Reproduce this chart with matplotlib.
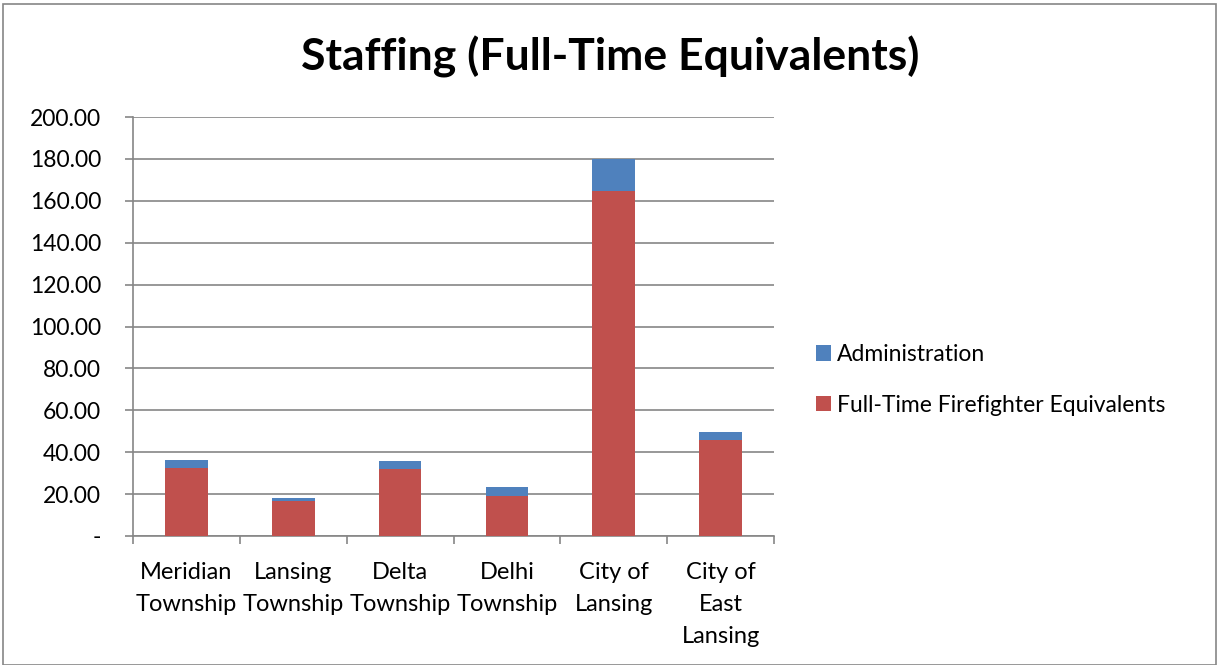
import matplotlib
matplotlib.use("Agg")
import matplotlib.pyplot as plt
from matplotlib.patches import Rectangle
import numpy as np

categories = ["Meridian\nTownship", "Lansing\nTownship", "Delta\nTownship",
              "Delhi\nTownship", "City of\nLansing", "City of\nEast\nLansing"]
firefighters = [32.5, 16.8, 32.0, 19.3, 164.8, 46.0]
administration = [3.9, 1.1, 4.0, 4.3, 15.2, 3.6]
y_ticks = [0, 20, 40, 60, 80, 100, 120, 140, 160, 180, 200]

RED = "#C0504D"
BLUE = "#4F81BD"
GRID = "#868686"

plt.rcParams["font.family"] = ["Lato", "DejaVu Sans"]

W, H = 1219, 665
fig = plt.figure(figsize=(W / 100, H / 100), dpi=100)
ax = fig.add_axes([133 / W, 1 - 536 / H, (774 - 133) / W, (536 - 117) / H])

# outer chart frame
fig.patches.append(Rectangle((3 / W, 0.0), (1216 - 3) / W, 1 - 4 / H,
                             transform=fig.transFigure, fill=False,
                             edgecolor=GRID, linewidth=1.2))

x = np.arange(len(categories))
ax.bar(x, firefighters, width=0.4, color=RED, label="Full-Time Firefighter Equivalents", zorder=3)
ax.bar(x, administration, width=0.4, bottom=firefighters, color=BLUE,
       label="Administration", zorder=3)

ax.set_xlim(-0.5, len(categories) - 0.5)
ax.set_ylim(0, 200)
ax.set_yticks(y_ticks)
ax.set_yticklabels(["-" if v == 0 else f"{v:.2f}" for v in y_ticks], fontsize=16.5)
ax.yaxis.grid(True, color=GRID, linewidth=1.2, zorder=0)
ax.set_axisbelow(True)

ax.set_xticks(x)
ax.set_xticklabels(categories, fontsize=17, linespacing=1.63)
ax.set_xticks(np.arange(-0.5, len(categories)), minor=True)
ax.tick_params(axis="x", which="major", length=0, pad=19)
ax.tick_params(axis="x", which="minor", length=6, color=GRID, width=1.2)
ax.tick_params(axis="y", length=6, color=GRID, width=1.2, pad=17)

for side in ("top", "right"):
    ax.spines[side].set_visible(False)
for side in ("left", "bottom"):
    ax.spines[side].set_color(GRID)
    ax.spines[side].set_linewidth(1.2)

fig.text(610 / W, 1 - 57 / H, "Staffing (Full-Time Equivalents)", ha="center",
         va="center", fontsize=32, fontweight="bold")

handles, labels = ax.get_legend_handles_labels()
leg = fig.legend(handles[::-1], labels[::-1], loc="center left",
                 bbox_to_anchor=(795 / W, 1 - 380 / H), frameon=False,
                 fontsize=16.5, handlelength=0.65, handleheight=0.65,
                 handletextpad=0.3, labelspacing=1.3)

fig.savefig("out.png", dpi=100)
